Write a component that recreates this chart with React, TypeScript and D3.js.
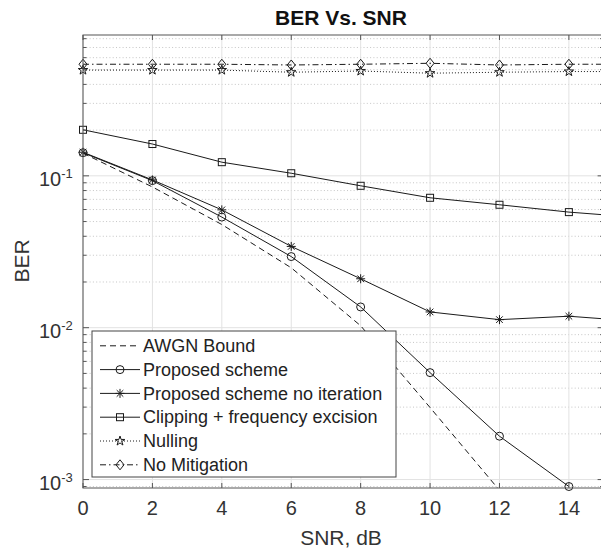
import React from "react";
import * as d3 from "d3";

const snr = [0, 2, 4, 6, 8, 10, 12, 14, 16];
const awgnBound = [0.141, 0.0845, 0.0478, 0.0248, 0.0103, 0.00298, 0.00085, null, null];
const proposed = [0.142, 0.093, 0.0535, 0.0294, 0.0137, 0.00506, 0.00193, 0.0009, null];
const proposedNoIter = [0.143, 0.094, 0.0597, 0.0343, 0.021, 0.0127, 0.0113, 0.0119, 0.011];
const clippingExcision = [0.201, 0.162, 0.123, 0.104, 0.086, 0.0717, 0.0645, 0.0577, 0.0532];
const nulling = [0.497, 0.497, 0.497, 0.481, 0.49, 0.474, 0.481, 0.486, 0.486];
const noMitigation = [0.543, 0.543, 0.543, 0.537, 0.543, 0.551, 0.537, 0.543, 0.543];

const xTicks = [0, 2, 4, 6, 8, 10, 12, 14];
const yMajor = [1e-3, 1e-2, 1e-1];
const yTickExp = ["-3", "-2", "-1"];
const legendLabels = [
  "AWGN Bound",
  "Proposed scheme",
  "Proposed scheme no iteration",
  "Clipping + frequency excision",
  "Nulling",
  "No Mitigation",
];

type Marker = "none" | "circle" | "asterisk" | "square" | "pentagram" | "diamond";
const seriesDefs: { vals: (number | null)[]; dash: string; marker: Marker }[] = [
  { vals: awgnBound, dash: "6,4", marker: "none" },
  { vals: proposed, dash: "", marker: "circle" },
  { vals: proposedNoIter, dash: "", marker: "asterisk" },
  { vals: clippingExcision, dash: "", marker: "square" },
  { vals: nulling, dash: "1,2", marker: "pentagram" },
  { vals: noMitigation, dash: "6,3,1.5,3", marker: "diamond" },
];

const FONT = "'Liberation Sans', Arial, Helvetica, sans-serif";
const L = 83, R = 603.6, T = 35, B = 488;

function starPath(R0: number) {
  const r0 = R0 * 0.382;
  const pts: string[] = [];
  for (let i = 0; i < 10; i++) {
    const a = -Math.PI / 2 + (i * Math.PI) / 5;
    const rr = i % 2 === 0 ? R0 : r0;
    pts.push(`${(rr * Math.cos(a)).toFixed(2)},${(rr * Math.sin(a)).toFixed(2)}`);
  }
  return "M" + pts.join("L") + "Z";
}

function MarkerShape({ kind, cx, cy }: { kind: Marker; cx: number; cy: number }) {
  const st = { fill: "none", stroke: "#1a1a1a", strokeWidth: 1 };
  if (kind === "circle") return <circle cx={cx} cy={cy} r={4} {...st} />;
  if (kind === "square") return <rect x={cx - 3.5} y={cy - 3.5} width={7} height={7} {...st} />;
  if (kind === "diamond")
    return <path d={`M${cx},${cy - 5}L${cx + 4},${cy}L${cx},${cy + 5}L${cx - 4},${cy}Z`} {...st} />;
  if (kind === "pentagram") return <path transform={`translate(${cx},${cy})`} d={starPath(5)} {...st} />;
  if (kind === "asterisk") {
    const a = 4.5, b = 3.3;
    return (
      <path
        d={`M${cx - a},${cy}L${cx + a},${cy}M${cx},${cy - a}L${cx},${cy + a}M${cx - b},${cy - b}L${cx + b},${cy + b}M${cx - b},${cy + b}L${cx + b},${cy - b}`}
        {...st}
      />
    );
  }
  return null;
}

export default function App() {
  const x = d3.scaleLinear().domain([0, 15]).range([L, R]);
  const y = d3.scaleLog().domain([0.00088, 0.846]).range([B, T]);
  const [y0, y1] = y.domain();

  const minor: number[] = [];
  for (let e = -4; e <= 0; e++) {
    for (let m = 2; m <= 9; m++) {
      const v = m * Math.pow(10, e);
      if (v >= y0 && v <= y1) minor.push(v);
    }
  }

  const line = d3
    .line<number | null>()
    .defined((d) => d !== null)
    .x((_, i) => x(snr[i]))
    .y((d) => y(d as number));

  const axisColor = "#555";
  const textColor = "#333";

  const legX = 92, legY = 331, legW = 304, legH = 146, rowH = 23.8, row0 = 345.8;

  return (
    <svg width={601} height={549} style={{ position: "absolute", left: 0, top: 0, background: "#fff" }}>
      <defs>
        <clipPath id="plotClip">
          <rect x={L} y={T} width={R - L} height={B - T} />
        </clipPath>
      </defs>
      <rect x={0} y={0} width={601} height={549} fill="#fff" />
      {/* grid */}
      {minor.map((v, i) => (
        <line key={"mg" + i} x1={L} x2={R} y1={y(v)} y2={y(v)} stroke="#b8b8b8" strokeWidth={0.8} strokeDasharray="1,2.3" />
      ))}
      {yMajor.map((v, i) => (
        <line key={"yg" + i} x1={L} x2={R} y1={y(v)} y2={y(v)} stroke="#e2e2e2" strokeWidth={1} />
      ))}
      {xTicks.map((v, i) => (
        <line key={"xg" + i} x1={x(v)} x2={x(v)} y1={T} y2={B} stroke="#e2e2e2" strokeWidth={1} />
      ))}
      {/* series lines */}
      <g clipPath="url(#plotClip)">
        {seriesDefs.map((s, i) => (
          <path key={"l" + i} d={line(s.vals) || ""} fill="none" stroke="#1a1a1a" strokeWidth={1} strokeDasharray={s.dash || undefined} />
        ))}
      </g>
      {/* markers */}
      {seriesDefs.map((s, i) =>
        s.vals.map((v, j) =>
          v !== null && snr[j] <= 15 && v >= y0 && v <= y1 ? (
            <MarkerShape key={`m${i}-${j}`} kind={s.marker} cx={x(snr[j])} cy={y(v)} />
          ) : null
        )
      )}
      {/* axes box */}
      <rect x={L} y={T} width={R - L} height={B - T} fill="none" stroke={axisColor} strokeWidth={1} />
      {xTicks.map((v, i) => (
        <g key={"xt" + i}>
          <line x1={x(v)} x2={x(v)} y1={B} y2={B - 5} stroke={axisColor} />
          <line x1={x(v)} x2={x(v)} y1={T} y2={T + 5} stroke={axisColor} />
          <text x={x(v)} y={515} textAnchor="middle" fontFamily={FONT} fontSize={20} fill={textColor}>
            {v}
          </text>
        </g>
      ))}
      {yMajor.map((v, i) => (
        <g key={"yt" + i}>
          <line x1={L} x2={L + 6} y1={y(v)} y2={y(v)} stroke={axisColor} />
          <line x1={R} x2={R - 6} y1={y(v)} y2={y(v)} stroke={axisColor} />
          <text x={39} y={y(v) + 10.5} fontFamily={FONT} fontSize={20} fill={textColor}>
            10
            <tspan fontSize={13} dy={-8}>
              {yTickExp[i]}
            </tspan>
          </text>
        </g>
      ))}
      {minor.map((v, i) => (
        <g key={"ymt" + i}>
          <line x1={L} x2={L + 3.5} y1={y(v)} y2={y(v)} stroke={axisColor} />
          <line x1={R} x2={R - 3.5} y1={y(v)} y2={y(v)} stroke={axisColor} />
        </g>
      ))}
      {/* labels */}
      <text x={341} y={25} textAnchor="middle" fontFamily={FONT} fontSize={21} fontWeight="bold" fill="#111">
        BER Vs. SNR
      </text>
      <text x={341} y={545} textAnchor="middle" fontFamily={FONT} fontSize={21} fill={textColor}>
        SNR, dB
      </text>
      <text transform="translate(28.5,261) rotate(-90)" textAnchor="middle" fontFamily={FONT} fontSize={21} fill={textColor}>
        BER
      </text>
      {/* legend */}
      <rect x={legX} y={legY} width={legW} height={legH} fill="#fff" stroke="#444" strokeWidth={1} />
      {legendLabels.map((lab, i) => {
        const cy = row0 + i * rowH;
        const s = seriesDefs[i];
        return (
          <g key={"lg" + i}>
            <line x1={100} x2={140} y1={cy} y2={cy} stroke="#1a1a1a" strokeWidth={1} strokeDasharray={s.dash || undefined} />
            <MarkerShape kind={s.marker} cx={120} cy={cy} />
            <text x={143} y={cy + 6.2} fontFamily={FONT} fontSize={18} fill="#222">
              {lab}
            </text>
          </g>
        );
      })}
    </svg>
  );
}
